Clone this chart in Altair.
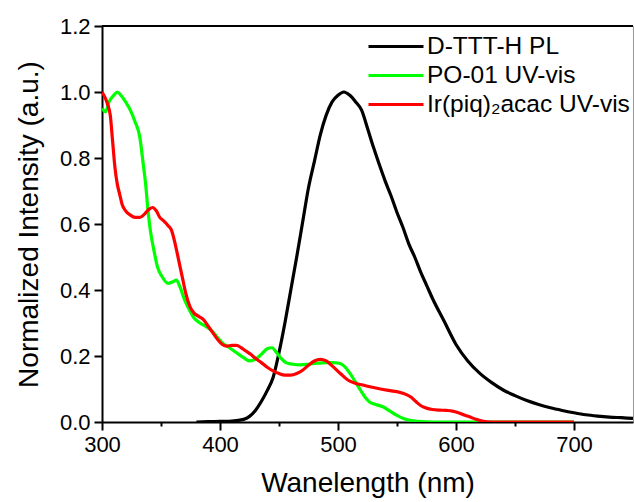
import altair as alt
import pandas as pd

# ---------------- data ----------------
pl_wl = [380, 390, 400, 410, 420, 425, 430, 435, 440, 445, 450, 455, 460, 465, 470,
         475, 480, 485, 490, 495, 500, 505, 510, 515, 520, 525, 530, 535, 540, 545,
         550, 555, 560, 565, 570, 575, 580, 590, 600, 610, 620, 630, 640, 650, 660,
         670, 680, 690, 700, 710, 720, 730, 740, 750]
pl_val = [0.0, 0.001, 0.002, 0.003, 0.008, 0.017, 0.035, 0.062, 0.095, 0.135, 0.21, 0.3,
          0.4, 0.5, 0.605, 0.71, 0.79, 0.87, 0.93, 0.97, 0.99, 1.0, 0.99, 0.97, 0.945,
          0.89, 0.833, 0.78, 0.73, 0.685, 0.635, 0.59, 0.54, 0.5, 0.455, 0.415, 0.375,
          0.305, 0.235, 0.185, 0.148, 0.12, 0.097, 0.08, 0.065, 0.053, 0.043, 0.035,
          0.028, 0.022, 0.018, 0.015, 0.013, 0.011]

po_wl = [300, 303, 306, 310, 313, 316, 320, 324, 328, 332, 335, 337, 339, 341, 344, 347,
         351, 356, 360, 363, 366, 370, 374, 378, 383, 388, 392, 397, 402, 408, 414, 420,
         425, 430, 435, 440, 444, 448, 452, 456, 462, 468, 475, 482, 490, 496, 501, 505,
         510, 515, 519, 523, 527, 532, 538, 544, 550, 556, 561, 570, 580, 600, 625, 700]
po_val = [0.95, 0.94, 0.97, 0.99, 1.0, 0.99, 0.97, 0.945, 0.91, 0.864, 0.78, 0.72, 0.64,
          0.58, 0.52, 0.47, 0.44, 0.42, 0.425, 0.43, 0.41, 0.37, 0.34, 0.315, 0.3, 0.29,
          0.28, 0.26, 0.24, 0.225, 0.21, 0.195, 0.185, 0.19, 0.205, 0.222, 0.225, 0.21,
          0.192, 0.18, 0.175, 0.173, 0.175, 0.178, 0.18, 0.18, 0.178, 0.17, 0.148, 0.12,
          0.097, 0.075, 0.06, 0.053, 0.046, 0.033, 0.02, 0.01, 0.005, 0.001, 0.0, 0.0,
          0.0, 0.0]

ir_wl = [300, 303, 305, 307, 309, 311, 313, 315, 317, 320, 324, 328, 332, 336, 340, 343,
         346, 349, 352, 356, 359, 362, 365, 368, 371, 374.5, 378, 382, 386, 390, 394, 398,
         402, 406, 410, 414, 418, 422, 426, 430, 435, 440, 445, 450, 455, 460, 465, 470,
         475, 480, 485, 490, 496, 502, 508, 514, 521, 528, 536, 544, 552, 558, 562, 566,
         570, 575, 580, 586, 592, 597, 602, 607, 612, 617, 623, 630, 700]
ir_val = [1.0, 0.98, 0.96, 0.93, 0.85, 0.77, 0.72, 0.69, 0.66, 0.64, 0.627, 0.62, 0.62,
          0.63, 0.645, 0.65, 0.64, 0.62, 0.61, 0.595, 0.58, 0.54, 0.49, 0.44, 0.39, 0.35,
          0.33, 0.32, 0.31, 0.29, 0.27, 0.25, 0.235, 0.23, 0.232, 0.232, 0.225, 0.215,
          0.205, 0.193, 0.18, 0.166, 0.155, 0.147, 0.142, 0.142, 0.147, 0.157, 0.172,
          0.185, 0.19, 0.185, 0.167, 0.147, 0.128, 0.118, 0.112, 0.106, 0.1, 0.095, 0.09,
          0.083, 0.075, 0.062, 0.05, 0.042, 0.038, 0.036, 0.035, 0.033, 0.028, 0.021,
          0.015, 0.008, 0.002, 0.0, 0.0]

series_names = ["D-TTT-H PL", "PO-01 UV-vis", "Ir(piq)\u2082acac UV-vis"]
series_colors = ["#000000", "#00ff00", "#ff0000"]

x_tick_values = [300, 350, 400, 450, 500, 550, 600, 650, 700]
y_tick_values = [0.0, 0.1, 0.2, 0.3, 0.4, 0.5, 0.6, 0.7, 0.8, 0.9, 1.0, 1.1, 1.2]

# ---------------- build table ----------------
rows = []
for name, wl, val in zip(series_names, [pl_wl, po_wl, ir_wl], [pl_val, po_val, ir_val]):
    for i, (w, v) in enumerate(zip(wl, val)):
        rows.append({"wl": w, "val": v, "series": name, "idx": i})
df = pd.DataFrame(rows)

FONT = "Liberation Sans"

x_scale = alt.Scale(domain=[300, 750], nice=False, zero=False)
y_scale = alt.Scale(domain=[0, 1.2], nice=False, zero=False)

x_axis = alt.Axis(
    title="Wanelength (nm)",
    values=x_tick_values,
    labelExpr="datum.value % 100 === 0 ? datum.label : ''",
    tickSize={"condition": {"test": "datum.value % 100 === 0", "value": 8}, "value": 4},
    labelPadding=4,
    titlePadding=14,
    labelFlush=False,
    labelOverlap=False,
)
y_axis = alt.Axis(
    title="Normalized Intensity (a.u.)",
    values=y_tick_values,
    labelExpr="round(datum.value * 10) % 2 === 0 ? format(datum.value, '.1f') : ''",
    tickSize={"condition": {"test": "round(datum.value * 10) % 2 === 0", "value": 8}, "value": 4},
    labelPadding=4,
    titlePadding=16,
    labelFlush=False,
    labelOverlap=False,
)

color = alt.Color(
    "series:N",
    scale=alt.Scale(domain=series_names, range=series_colors),
    legend=alt.Legend(
        title=None,
        orient="none",
        legendX=265,
        legendY=6,
        symbolType="stroke",
        symbolSize=3025,
        symbolStrokeWidth=3,
        labelFontSize=24.5,
        labelFont=FONT,
        labelColor="#000000",
        labelOffset=2,
        clipHeight=29,
        rowPadding=0,
        padding=0,
        labelLimit=400,
    ),
)

base = alt.Chart(df)
layers = []
for name in series_names:
    layers.append(
        base.transform_filter(alt.datum.series == name)
        .mark_line(strokeWidth=3.2, clip=True, interpolate="monotone")
        .encode(
            x=alt.X("wl:Q", scale=x_scale, axis=x_axis),
            y=alt.Y("val:Q", scale=y_scale, axis=y_axis),
            color=color,
            order="idx:Q",
        )
    )

top_frame = (
    alt.Chart(pd.DataFrame({"k": [0]}))
    .mark_rule(color="#000000", strokeWidth=2)
    .encode(x=alt.datum(300), x2=alt.datum(750), y=alt.datum(1.2))
)

chart = (
    alt.layer(*layers, top_frame)
    .properties(
        width=531,
        height=396,
        autosize=alt.AutoSizeParams(type="none"),
        padding={"left": 102, "top": 26, "right": 1, "bottom": 80},
    )
    .configure_view(stroke="#999999", strokeWidth=1)
    .configure_axis(
        grid=False,
        domainColor="#000000",
        domainWidth=2,
        tickColor="#000000",
        tickWidth=2,
        labelFont=FONT,
        labelFontSize=22,
        labelColor="#000000",
        titleFont=FONT,
        titleFontSize=28,
        titleFontWeight="normal",
        titleColor="#000000",
    )
)

chart.save("out.html", embed_options={"renderer": "svg", "actions": False})
